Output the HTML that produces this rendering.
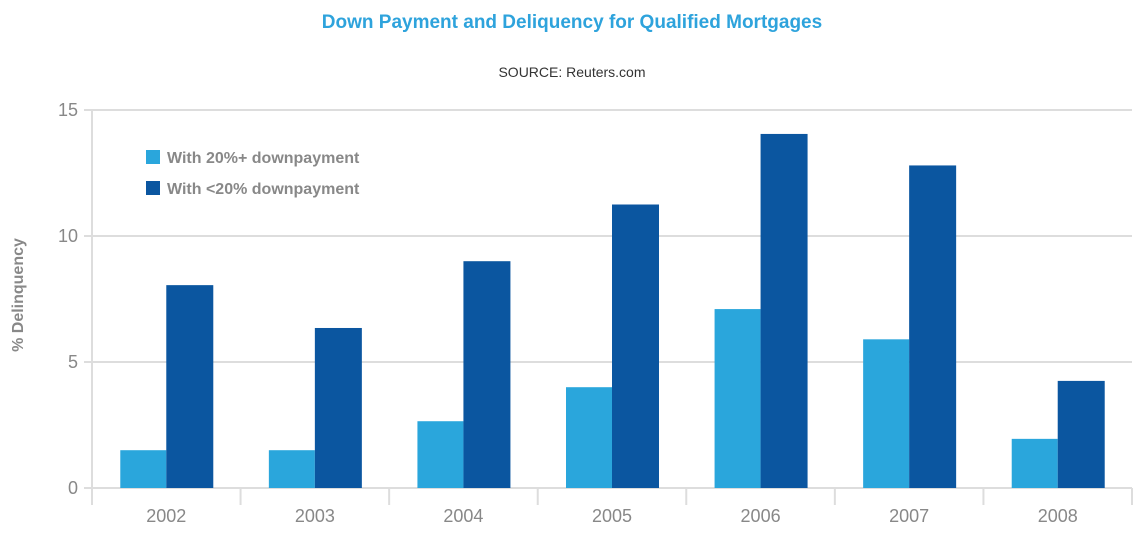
<!DOCTYPE html>
<html><head><meta charset="utf-8"><style>
body{margin:0;background:#fff;}
svg{display:block;font-family:"Liberation Sans",sans-serif;}
</style></head><body>
<svg id="chart" width="1144" height="536">
<text x="572" y="28" text-anchor="middle" font-size="19" font-weight="bold" fill="#2ea3dc">Down Payment and Deliquency for Qualified Mortgages</text>
<text x="572" y="77" text-anchor="middle" font-size="14" fill="#333">SOURCE: Reuters.com</text>
<text transform="translate(23,295) rotate(-90)" text-anchor="middle" font-size="16" font-weight="bold" fill="#888">% Delinquency</text>
<g id="grid"></g><g id="bars"></g><g id="xaxis"></g>
<g>
<rect x="146" y="150" width="14" height="14" fill="#2aa6dc"/>
<text x="167" y="163" font-size="16" font-weight="bold" fill="#888">With 20%+ downpayment</text>
<rect x="146" y="181" width="14" height="14" fill="#0b56a0"/>
<text x="167" y="194" font-size="16" font-weight="bold" fill="#888">With &lt;20% downpayment</text>
</g>
</svg>
<script>
const categories=["2002","2003","2004","2005","2006","2007","2008"];
const seriesHigh=[1.5,1.5,2.65,4.0,7.1,5.9,1.95];
const seriesLow=[8.05,6.35,9.0,11.25,14.05,12.8,4.25];
const yTicks=[0,5,10,15];
const NS="http://www.w3.org/2000/svg";
const x0=92,x1=1132,y0=488,yTop=110,yMax=15;
const y=v=>y0-(v/yMax)*(y0-yTop);
const bw=(x1-x0)/categories.length;
const xc=i=>x0+bw*(i+0.5);
function mk(t,a,p){const e=document.createElementNS(NS,t);for(const k in a)e.setAttribute(k,a[k]);p.appendChild(e);return e;}
const grid=document.getElementById('grid'),bars=document.getElementById('bars'),xa=document.getElementById('xaxis');
yTicks.forEach(v=>{
 const l=mk('line',{x1:84,x2:x1,y1:y(v),y2:y(v),stroke:'#ddd','stroke-width':2},grid);
 
 
 const t=mk('text',{x:78,y:y(v)+6,'text-anchor':'end','font-size':18,fill:'#888'},grid);
 t.textContent=v;
 
 
});
const ax=mk('line',{x1:x0,x2:x0,y1:yTop,y2:505,stroke:'#ddd','stroke-width':2},grid);


categories.forEach((c,i)=>{
 const b1=mk('rect',{x:xc(i)-46,y:y(seriesHigh[i]),width:46,height:y0-y(seriesHigh[i]),fill:'#2aa6dc'},bars);
 
 
 const b2=mk('rect',{x:xc(i),y:y(seriesLow[i]),width:47,height:y0-y(seriesLow[i]),fill:'#0b56a0'},bars);
 
 
 const t=mk('text',{x:xc(i),y:522,'text-anchor':'middle','font-size':18,fill:'#888'},xa);
 t.textContent=c;
 
 
});
for(let i=0;i<=categories.length;i++){
 const l=mk('line',{x1:x0+bw*i,x2:x0+bw*i,y1:488,y2:505,stroke:'#ddd','stroke-width':2},xa);
 
 
}
</script>
</body></html>
